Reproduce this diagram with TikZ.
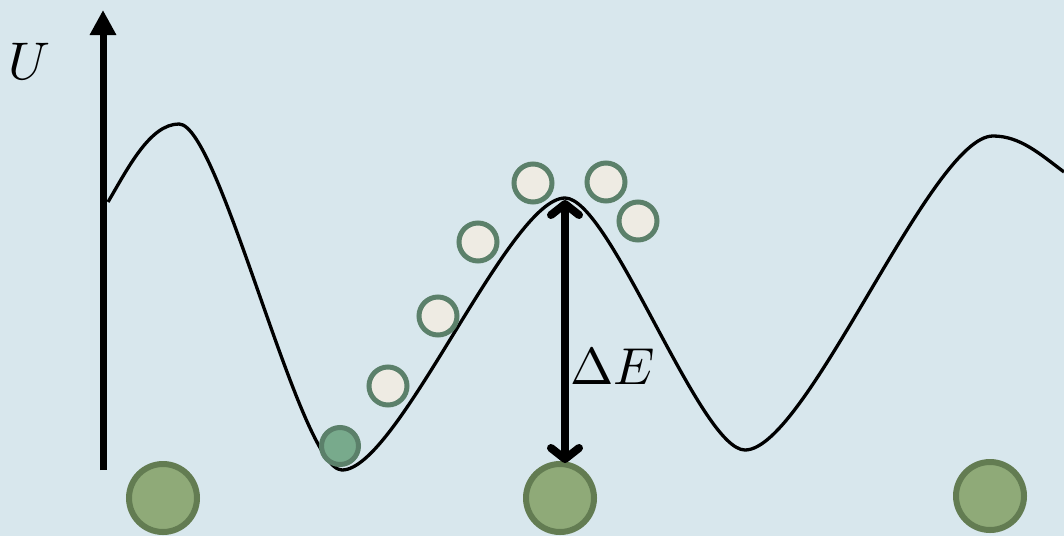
\documentclass[tikz,border=0pt]{standalone}
\usepackage{graphicx}
\usetikzlibrary{arrows.meta}
\definecolor{bgc}{HTML}{D8E7ED}
\definecolor{ringc}{HTML}{5B806A}
\definecolor{eggc}{HTML}{EEEBE3}
\definecolor{ballc}{HTML}{78AA8C}
\definecolor{bigc}{HTML}{8FAA78}
\definecolor{bigring}{HTML}{637C52}
\tikzset{
  small/.style={circle,draw=ringc,line width=5pt,fill=eggc,minimum size=38pt,inner sep=0pt},
  active/.style={circle,draw=ringc,line width=5pt,fill=ballc,minimum size=37pt,inner sep=0pt},
  atom/.style={circle,draw=bigring,line width=6pt,fill=bigc,minimum size=68pt,inner sep=0pt},
  lbl/.style={inner sep=0pt},
  curve/.style={line width=3.3pt,line cap=butt,line join=round},
}
\begin{document}
\begin{tikzpicture}[x=1pt,y=-1pt]
\fill[bgc] (0,0) rectangle (1064,536);
\useasboundingbox (0,0) rectangle (1064,536);
% potential curve
\draw[curve] (108,202) .. controls (128,168) and (150,124) .. (179,124)
  .. controls (220,124) and (300,470) .. (342,470)
  .. controls (398,470) and (509,198) .. (565,198)
  .. controls (610,198) and (700,450) .. (745,450)
  .. controls (807,450) and (931,136) .. (993,136)
  .. controls (1020,136) and (1040,154) .. (1064,172);
% atoms
\node[atom] (a1) at (163,498) {};
\node[atom] (a2) at (560,498) {};
\node[atom] (a3) at (990,496) {};
% particles
\node[active] (p0) at (340,446) {};
\node[small] (p1) at (388,386) {};
\node[small] (p2) at (438,316) {};
\node[small] (p3) at (478,242) {};
\node[small] (p4) at (533,183) {};
\node[small] (p5) at (606,182) {};
\node[small] (p6) at (638,221) {};
% axis
\coordinate (ax0) at (103,470);
\coordinate (ax1) at (103,10);
\draw[line width=7pt,-{Triangle[length=25pt,width=25pt]}] (ax0) -- (ax1);
\node[lbl] (U) at (29,61) {\scalebox{5.3}{$U$}};
% barrier arrow
\coordinate (peak) at (565,200);
\coordinate (base) at (565,463);
\draw[line width=8pt,{Straight Barb[length=11pt,width=28pt,round]}-{Straight Barb[length=11pt,width=28pt,round]}] (peak) -- (base);
\node[lbl] (dE) at (613,367) {\scalebox{5.2}{$\Delta E$}};
\end{tikzpicture}
\end{document}
